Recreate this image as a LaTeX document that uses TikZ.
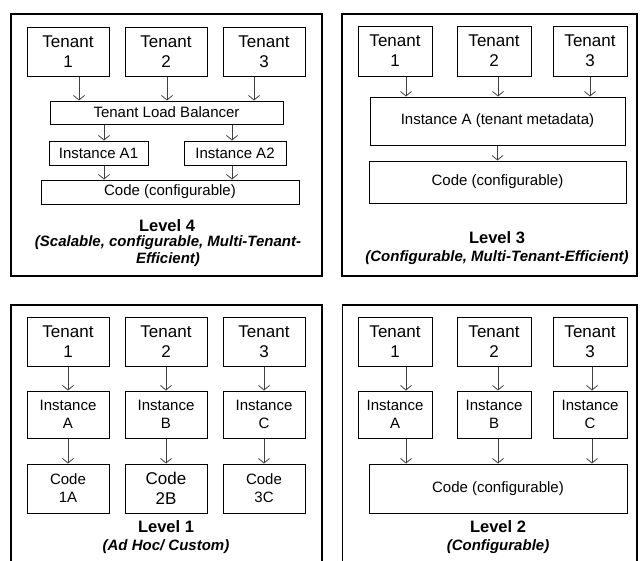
\documentclass[tikz,border=0pt]{standalone}
\usepackage{fontspec}
\setmainfont{Liberation Sans}
\usetikzlibrary{arrows.meta}

\tikzset{
  panel/.style={draw, line width=1.2pt},
  box/.style={draw, line width=1pt, inner sep=0pt, align=center,
              font=\fontsize{15}{18}\selectfont},
  tenant/.style={box, minimum width=82, minimum height=49,
                 font=\fontsize{17}{20}\selectfont},
  arr/.style={draw=black!75, line width=0.8pt,
              -{Straight Barb[length=4.5pt,width=11pt]}},
  title/.style={inner sep=0.5pt, font=\fontsize{16.5}{19}\selectfont\bfseries},
  subtitle/.style={inner sep=0.5pt, align=center, font=\fontsize{15}{17}\selectfont\bfseries\itshape},
}

\begin{document}
\begin{tikzpicture}[x=1pt,y=-1pt]
\useasboundingbox (0,0) rectangle (643,560);

% ---------------- Level 4 ----------------
\draw[panel] (11,14) rectangle (322,276);
\node[tenant] (a-t1) at (68,51.5) {Tenant\\1};
\node[tenant] (a-t2) at (166,51.5) {Tenant\\2};
\node[tenant] (a-t3) at (264,51.5) {Tenant\\3};
\node[box, minimum width=233, minimum height=23] (a-lb) at (166.5,112.5) {Tenant Load Balancer};
\node[box, minimum width=99, minimum height=24] (a-i1) at (98.5,153) {Instance A1};
\node[box, minimum width=102, minimum height=24] (a-i2) at (235,153) {Instance A2};
\node[box, minimum width=258, minimum height=24] (a-code) at (170,192) {Code (configurable)};
\draw[arr] ([xshift=11]a-t1.south) -- ([xshift=11]a-t1.south |- a-lb.north);
\draw[arr] ([xshift=1]a-t2.south) -- ([xshift=1]a-t2.south |- a-lb.north);
\draw[arr] ([xshift=-10]a-t3.south) -- ([xshift=-10]a-t3.south |- a-lb.north);
\draw[arr] ([xshift=5.5]a-i1.north |- a-lb.south) -- ([xshift=5.5]a-i1.north);
\draw[arr] ([xshift=-3]a-i2.north |- a-lb.south) -- ([xshift=-3]a-i2.north);
\draw[arr] ([xshift=5.5]a-i1.south) -- ([xshift=5.5]a-i1.south |- a-code.north);
\draw[arr] ([xshift=-3]a-i2.south) -- ([xshift=-3]a-i2.south |- a-code.north);
\node[title] (a-lvl) at (167,226) {Level 4};
\node[subtitle] (a-sub) at (168,251) {(Scalable, configurable, Multi-Tenant-\\Efficient)};

% ---------------- Level 3 ----------------
\draw[panel] (342,14) rectangle (637,276);
\node[tenant, minimum width=74, minimum height=50] (b-t1) at (395,51) {Tenant\\1};
\node[tenant, minimum width=74, minimum height=50] (b-t2) at (494,51) {Tenant\\2};
\node[tenant, minimum width=74, minimum height=50] (b-t3) at (590,51) {Tenant\\3};
\node[box, minimum width=255, minimum height=48] (b-inst) at (497.5,121) {Instance A (tenant metadata)};
\node[box, minimum width=257, minimum height=42] (b-code) at (497.5,182) {Code (configurable)};
\draw[arr] ([xshift=11]b-t1.south) -- ([xshift=11]b-t1.south |- b-inst.north);
\draw[arr] ([xshift=4]b-t2.south) -- ([xshift=4]b-t2.south |- b-inst.north);
\draw[arr] (b-t3.south) -- (b-t3.south |- b-inst.north);
\draw[arr] (b-inst.south) -- (b-code.north);
\node[title] (b-lvl) at (497,238) {Level 3};
\node[subtitle] (b-sub) at (497,258) {(Configurable, Multi-Tenant-Efficient)};

% ---------------- Level 1 ----------------
\draw[panel] (11,562) -- (11,305) -- (322,305) -- (322,562);
\node[tenant] (c-t1) at (68,341.5) {Tenant\\1};
\node[tenant] (c-t2) at (166,341.5) {Tenant\\2};
\node[tenant] (c-t3) at (264,341.5) {Tenant\\3};
\node[box, minimum width=82, minimum height=47] (c-i1) at (68,414.5) {Instance\\A};
\node[box, minimum width=82, minimum height=47] (c-i2) at (166,414.5) {Instance\\B};
\node[box, minimum width=82, minimum height=47] (c-i3) at (264,414.5) {Instance\\C};
\node[box, minimum width=82, minimum height=49] (c-c1) at (68,488.5) {Code\\1A};
\node[box, minimum width=82, minimum height=49, font=\fontsize{17}{20}\selectfont] (c-c2) at (166,488.5) {Code\\2B};
\node[box, minimum width=82, minimum height=49] (c-c3) at (264,488.5) {Code\\3C};
\foreach \i in {1,2,3}{
  \draw[arr] (c-t\i.south) -- (c-i\i.north);
  \draw[arr] (c-i\i.south) -- (c-c\i.north);
}
\node[title] (c-lvl) at (166,527) {Level 1};
\node[subtitle] (c-sub) at (166,547) {(Ad Hoc/ Custom)};

% ---------------- Level 2 ----------------
\draw[panel] (342.5,562) -- (342.5,305) -- (637,305) -- (637,562);
\node[tenant, minimum width=74] (d-t1) at (395,341.5) {Tenant\\1};
\node[tenant, minimum width=74] (d-t2) at (494,341.5) {Tenant\\2};
\node[tenant, minimum width=74] (d-t3) at (590,341.5) {Tenant\\3};
\node[box, minimum width=74, minimum height=47] (d-i1) at (395,414.5) {Instance\\A};
\node[box, minimum width=74, minimum height=47] (d-i2) at (494,414.5) {Instance\\B};
\node[box, minimum width=74, minimum height=47] (d-i3) at (590,414.5) {Instance\\C};
\node[box, minimum width=258, minimum height=49] (d-code) at (498,488.5) {Code (configurable)};
\draw[arr] ([xshift=11]d-t1.south) -- ([xshift=11]d-i1.north);
\draw[arr] ([xshift=4]d-t2.south) -- ([xshift=4]d-i2.north);
\draw[arr] ([xshift=2]d-t3.south) -- ([xshift=2]d-i3.north);
\draw[arr] ([xshift=11]d-i1.south) -- ([xshift=11]d-i1.south |- d-code.north);
\draw[arr] ([xshift=4]d-i2.south) -- ([xshift=4]d-i2.south |- d-code.north);
\draw[arr] ([xshift=2]d-i3.south) -- ([xshift=2]d-i3.south |- d-code.north);
\node[title] (d-lvl) at (498,527) {Level 2};
\node[subtitle] (d-sub) at (498,547) {(Configurable)};
\end{tikzpicture}
\end{document}
